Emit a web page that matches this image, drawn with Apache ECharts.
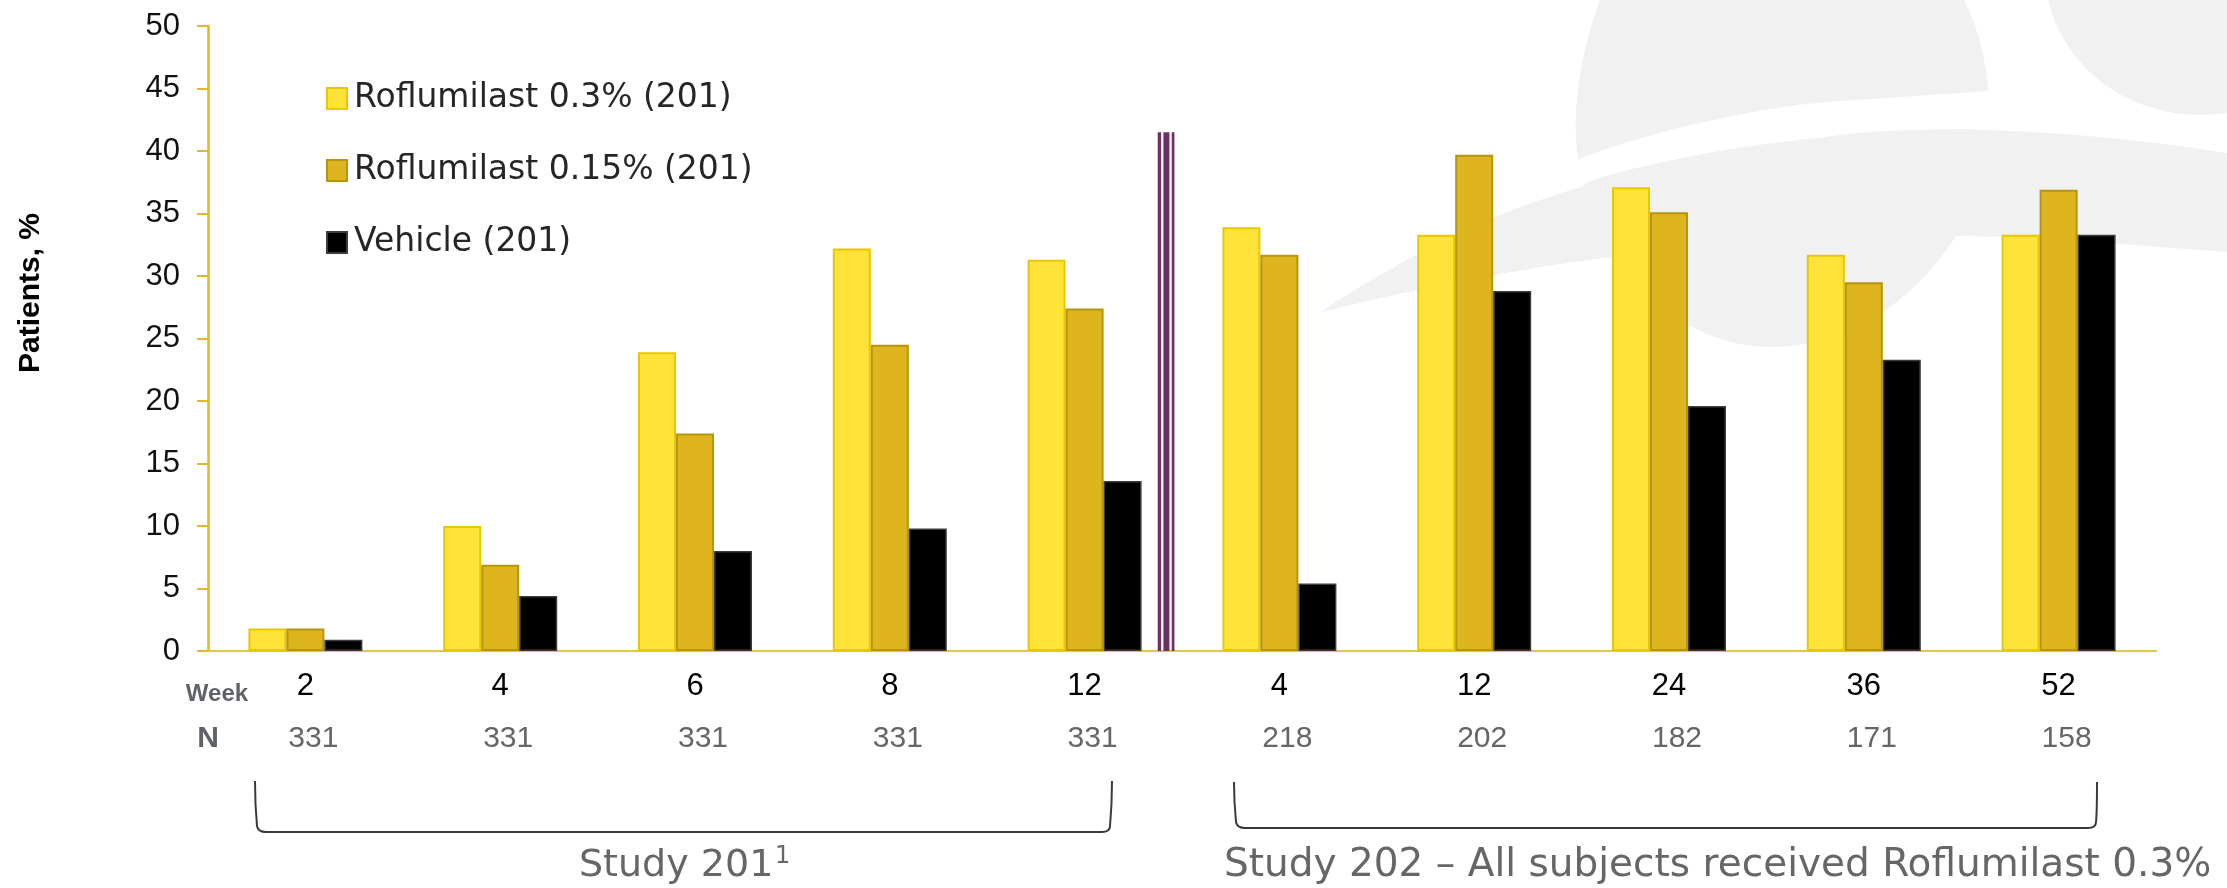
<!DOCTYPE html>
<html>
<head>
<meta charset="utf-8">
<script src="https://cdn.jsdelivr.net/npm/echarts@6/dist/echarts.min.js"></script>
<style>
  html, body { margin: 0; padding: 0; background: #fff; }
  #chart { width: 2227px; height: 888px; }
</style>
</head>
<body>
<div id="chart"></div>
<script>
// Week labels along the category axis (Study 201: weeks 2-12, Study 202: weeks 4-52)
const weeks = ['2', '4', '6', '8', '12', '4', '12', '24', '36', '52'];
// Number of patients at each visit
const patientCounts = ['331', '331', '331', '331', '331', '218', '202', '182', '171', '158'];

const seriesNames = ['Roflumilast 0.3% (201)', 'Roflumilast 0.15% (201)', 'Vehicle (201)'];

// Patients, % per visit
const roflumilast03 = [1.8, 10.0, 23.9, 32.2, 31.3, 33.9, 33.3, 37.1, 31.7, 33.3];
const roflumilast015 = [1.8, 6.9, 17.4, 24.5, 27.4, 31.7, 39.7, 35.1, 29.5, 36.9];
const vehicle = [0.9, 4.4, 8.0, 9.8, 13.6, 5.4, 28.8, 19.6, 23.3, 33.3];

// Value axis range
const yMin = 0, yMax = 50, yStep = 5;

// Separator between the two studies, in category units, and its height in %
const DIVIDER_AT = 4.42;
const DIVIDER_TOP = 41.5;
const DIVIDER_STRIPES = [[-8.7, 3.4], [-3, 6], [5.3, 2.7]];

const GREY_SHAPE = '#F1F1F1';
const AXIS_GOLD = '#E2B829';

// Background emblem and study brackets, as SVG path outlines
const EMBLEM_PATHS = [
  { d: 'M1600,0 C1578,60 1570,120 1580,170 C1600,280 1690,350 1777,347 C1880,344 1950,260 1975,200 C1995,140 1995,60 1964,0 Z', fill: GREY_SHAPE },
  { d: 'M1540,175 L1579,159 C1640,135 1760,104 1856,100 C1920,96 1970,92 2010,90 L2010,131 L1967,129 C1900,129 1800,138 1725,150 C1680,158 1630,168 1593,180 L1540,205 Z', fill: '#ffffff' },
  { d: 'M1321,312 C1360,285 1420,250 1495,217 C1580,182 1700,152 1856,133 C1960,124 2100,132 2240,155 L2240,253 C2150,246 2050,238 1967,236 C1850,236 1700,248 1613,257 C1520,268 1420,288 1321,312 Z', fill: GREY_SHAPE }
];
const BRACKET_PATHS = [
  'M255,781 C255,800 256,815 257,826 Q258,832 266,832 L1102,832 Q1110,832 1110,826 C1111,815 1112,800 1112,781',
  'M1234,782 C1234,800 1235,812 1236,822 Q1237,828 1245,828 L2088,828 Q2096,828 2096,822 C2097,812 2097,800 2097,782'
];

const chart = echarts.init(document.getElementById('chart'), null, { renderer: 'canvas' });

const barStyles = [
  { color: '#FFE338', borderColor: '#E9C700', borderWidth: 2 },
  { color: '#DFB51F', borderColor: '#B5950B', borderWidth: 2 },
  { color: '#000000', borderColor: '#3C3C3C', borderWidth: 1.5 }
];
const barData = [roflumilast03, roflumilast015, vehicle];

const barSeries = seriesNames.map((name, i) => ({
  name: name,
  type: 'bar',
  xAxisIndex: 0,
  data: barData[i],
  barWidth: 38,
  barGap: '0%',
  itemStyle: barStyles[i],
  emphasis: { disabled: true },
  z: 3
}));

const emblemSeries = {
  type: 'custom',
  name: 'emblem',
  xAxisIndex: 0,
  silent: true,
  clip: false,
  z: 1,
  data: [[0, 0]],
  renderItem: function () {
    const children = EMBLEM_PATHS.map(function (p) {
      return { type: 'path', shape: { pathData: p.d }, style: { fill: p.fill } };
    });
    children.push({ type: 'ellipse', shape: { cx: 2200, cy: -30, rx: 155, ry: 145 }, style: { fill: GREY_SHAPE } });
    BRACKET_PATHS.forEach(function (d) {
      children.push({ type: 'path', shape: { pathData: d }, style: { fill: 'none', stroke: '#3A3A3A', lineWidth: 2 } });
    });
    return { type: 'group', children: children };
  }
};

const dividerSeries = {
  type: 'custom',
  name: 'divider',
  xAxisIndex: 0,
  silent: true,
  clip: false,
  z: 4,
  data: [[Math.floor(DIVIDER_AT), DIVIDER_TOP]],
  renderItem: function (params, api) {
    const base = Math.floor(DIVIDER_AT);
    const band = api.size([1, 0])[0];
    const cx = api.coord([base, 0])[0] + (DIVIDER_AT - base) * band;
    const y0 = api.coord([base, 0])[1];
    const y1 = api.coord([base, api.value(1)])[1];
    return {
      type: 'group',
      children: DIVIDER_STRIPES.map(function (s) {
        return {
          type: 'rect',
          shape: { x: cx + s[0], y: y1, width: s[1], height: y0 - y1 },
          style: { fill: '#6B2F6A' }
        };
      })
    };
  }
};

const option = {
  animation: false,
  backgroundColor: '#ffffff',
  grid: { left: 208, right: 71, top: 26, bottom: 237, containLabel: false },
  legend: {
    orient: 'vertical',
    left: 326,
    top: 82,
    padding: 0,
    itemWidth: 20,
    itemHeight: 21,
    itemGap: 39,
    icon: 'rect',
    selectedMode: false,
    data: seriesNames,
    textStyle: { fontFamily: 'DejaVu Sans', fontSize: 33, lineHeight: 31, color: '#262626', padding: [0, 0, 0, 2] }
  },
  xAxis: [
    {
      type: 'category',
      data: weeks,
      axisLine: { lineStyle: { color: '#E5C34F', width: 2 } },
      axisTick: { show: false },
      axisLabel: { interval: 0, fontFamily: 'Liberation Sans', fontSize: 31, color: '#000', margin: 20 },
      splitLine: { show: false }
    },
    {
      type: 'category',
      data: patientCounts,
      position: 'bottom',
      offset: 55,
      axisLine: { show: false },
      axisTick: { show: false },
      axisLabel: { interval: 0, fontFamily: 'Liberation Sans', fontSize: 30, color: '#666666', margin: 18, padding: [0, 0, 0, 16] },
      splitLine: { show: false }
    }
  ],
  yAxis: {
    type: 'value',
    min: yMin,
    max: yMax,
    interval: yStep,
    axisLine: { show: true, lineStyle: { color: AXIS_GOLD, width: 2.5 } },
    axisTick: { show: true, length: 11, lineStyle: { color: AXIS_GOLD, width: 2 } },
    axisLabel: { fontFamily: 'Liberation Sans', fontSize: 31, color: '#111', margin: 28 },
    splitLine: { show: false }
  },
  series: [emblemSeries].concat(barSeries, [dividerSeries]),
  graphic: [
    // axis title
    { type: 'text', silent: true, x: 31, y: 293, rotation: Math.PI / 2,
      style: { text: 'Patients, %', fontFamily: 'Liberation Sans', fontWeight: 'bold', fontSize: 30, fill: '#000', align: 'center', verticalAlign: 'middle' } },

    // row headers under the axis
    { type: 'text', silent: true, x: 217, y: 694,
      style: { text: 'Week', fontFamily: 'Liberation Sans', fontWeight: 'bold', fontSize: 24, fill: '#5F6368', align: 'center', verticalAlign: 'middle' } },
    { type: 'text', silent: true, x: 208, y: 739,
      style: { text: 'N', fontFamily: 'Liberation Sans', fontWeight: 'bold', fontSize: 30, fill: '#5F6368', align: 'center', verticalAlign: 'middle' } },

    // study captions
    { type: 'text', silent: true, x: 579, y: 866,
      style: { text: 'Study 201', fontFamily: 'DejaVu Sans', fontSize: 38, fill: '#666666', align: 'left', verticalAlign: 'middle' } },
    { type: 'text', silent: true, x: 775, y: 857,
      style: { text: '1', fontFamily: 'DejaVu Sans', fontSize: 24, fill: '#666666', align: 'left', verticalAlign: 'middle' } },
    { type: 'text', silent: true, x: 1224, y: 866,
      style: { text: 'Study 202 \u2013 All subjects received Roflumilast 0.3%', fontFamily: 'DejaVu Sans', fontSize: 39, fill: '#666666', align: 'left', verticalAlign: 'middle' } }
  ]
};

chart.setOption(option);
</script>
</body>
</html>
